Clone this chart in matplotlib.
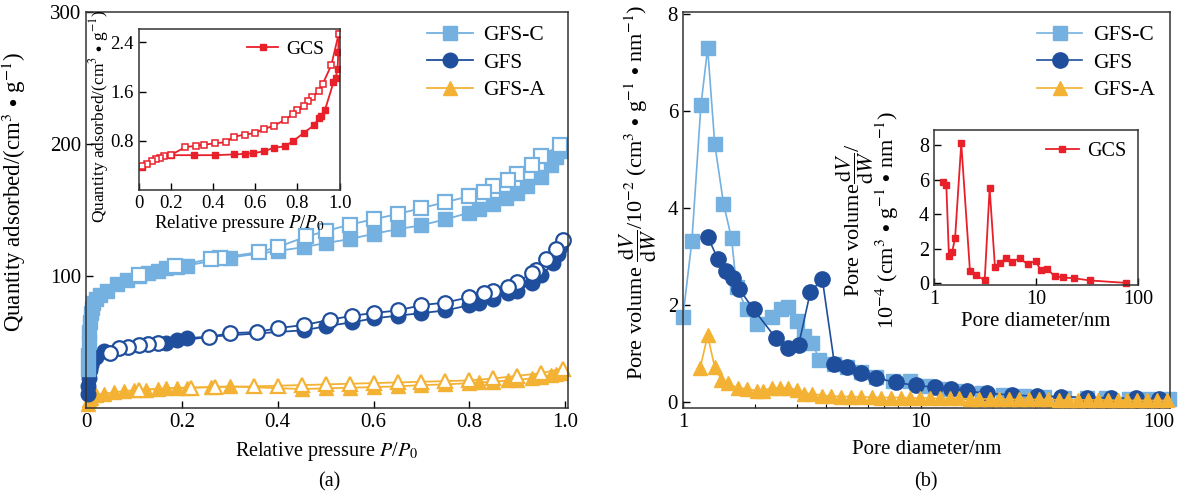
import numpy as np
import matplotlib
matplotlib.use('Agg')
import matplotlib.pyplot as plt

plt.rcParams['font.family'] = ['Liberation Serif', 'DejaVu Serif']
plt.rcParams['mathtext.fontset'] = 'stix'

c_lb = '#74B1E0'
c_db = '#1F4E9C'
c_ye = '#F4B234'
c_rd = '#E8202A'

# (a) isotherms
gfsc_ads_x = [0.004, 0.005, 0.006, 0.007, 0.008, 0.01, 0.012, 0.015, 0.02, 0.03, 0.044, 0.064, 0.085,
              0.11, 0.13, 0.15, 0.167, 0.19, 0.21, 0.30, 0.40, 0.455, 0.50, 0.55, 0.60, 0.65, 0.70,
              0.75, 0.80, 0.82, 0.85, 0.877, 0.90, 0.92, 0.95, 0.97, 0.98, 0.99]
gfsc_ads_y = [30, 40, 50, 58, 65, 72, 76, 80, 83, 86, 89, 94, 97, 100, 102, 104, 106, 107, 108, 114,
              119, 122, 125, 128, 132, 135.5, 138.5, 143, 148, 151, 154.5, 159, 163, 168, 175, 184, 190, 195]
gfsc_des_x = [0.99, 0.95, 0.93, 0.90, 0.88, 0.85, 0.83, 0.80, 0.75, 0.70, 0.65, 0.60, 0.55, 0.50,
              0.46, 0.40, 0.36, 0.28, 0.26, 0.185, 0.11]
gfsc_des_y = [199, 191, 184, 177, 173, 168, 164, 160.5, 156, 151.5, 147, 143, 139, 134, 130, 122,
              118, 114, 113, 107.5, 100.5]

gfs_ads_x = [0.004, 0.005, 0.006, 0.008, 0.01, 0.013, 0.02, 0.037, 0.167, 0.19, 0.21, 0.455, 0.50,
             0.555, 0.60, 0.65, 0.70, 0.75, 0.80, 0.82, 0.85, 0.88, 0.90, 0.93, 0.95, 0.975, 0.985, 0.99]
gfs_ads_y = [11, 17, 23, 29, 33, 36, 39, 43, 49, 51.5, 53, 59, 62, 65, 68, 70, 72, 74, 78, 80, 83,
             87, 89, 94.5, 100.5, 110, 117, 122]
gfs_des_x = [0.995, 0.98, 0.96, 0.94, 0.93, 0.90, 0.88, 0.85, 0.83, 0.80, 0.75, 0.70, 0.65, 0.60,
             0.555, 0.51, 0.455, 0.40, 0.356, 0.30, 0.257, 0.15, 0.13, 0.11, 0.088, 0.068, 0.05]
gfs_des_y = [127, 120.5, 113, 104.5, 102, 95.5, 92, 88.6, 87, 84, 80, 78, 74, 72, 70, 67, 63, 60.6,
             57.6, 56.8, 54, 49, 48.5, 47.7, 46, 45.5, 41.6]

gfsa_ads_x = [0.004, 0.006, 0.01, 0.02, 0.037, 0.058, 0.08, 0.1, 0.125, 0.15, 0.167, 0.19, 0.21,
              0.26, 0.30, 0.45, 0.5, 0.55, 0.6, 0.65, 0.7, 0.75, 0.8, 0.82, 0.85, 0.88, 0.9, 0.93,
              0.95, 0.97, 0.98, 0.99]
gfsa_ads_y = [3, 6, 8, 10, 11, 12, 13, 13.5, 14, 14.5, 15, 15.5, 15.5, 16, 16.5, 14.5, 15, 15.5, 16,
              16.5, 17.5, 18, 19, 19.5, 20, 21, 21.5, 22.5, 23.5, 25, 26, 27]
gfsa_des_x = [0.995, 0.95, 0.90, 0.85, 0.80, 0.75, 0.70, 0.65, 0.60, 0.55, 0.50, 0.45, 0.40, 0.35,
              0.27, 0.22, 0.11]
gfsa_des_y = [30, 26.5, 24.5, 22.5, 21, 20.5, 20, 19.5, 19, 18.5, 18, 17.5, 17, 16.5, 16, 15.5, 14]

# (a) inset GCS
gcs_ads_x = [0.063, 0.20, 0.31, 0.41, 0.50, 0.55, 0.59, 0.64, 0.69, 0.74, 0.78, 0.83, 0.88, 0.90,
             0.91, 0.93, 0.97, 0.98, 0.99, 0.993, 0.995]
gcs_ads_y = [0.38, 0.568, 0.568, 0.568, 0.58, 0.59, 0.60, 0.63, 0.69, 0.71, 0.80, 0.93, 1.06, 1.17,
             1.20, 1.30, 1.75, 1.82, 1.97, 2.24, 2.54]
gcs_des_x = [0.995, 0.96, 0.92, 0.90, 0.87, 0.85, 0.83, 0.80, 0.78, 0.74, 0.69, 0.64, 0.60, 0.55,
             0.50, 0.46, 0.41, 0.36, 0.32, 0.27, 0.20, 0.17, 0.15, 0.13, 0.11, 0.087, 0.063]
gcs_des_y = [2.54, 2.03, 1.73, 1.61, 1.51, 1.45, 1.36, 1.30, 1.24, 1.14, 1.05, 0.99, 0.93, 0.90,
             0.87, 0.78, 0.76, 0.74, 0.72, 0.70, 0.57, 0.55, 0.53, 0.50, 0.48, 0.43, 0.40]

# (b) pore size distributions
psd_c_x = [1.0, 1.09, 1.19, 1.27, 1.36, 1.48, 1.60, 1.68, 1.85, 2.04, 2.36, 2.57, 2.75, 3.0, 3.24,
           3.5, 3.74, 4.3, 4.9, 5.6, 6.5, 7.6, 9.0, 10.5, 12.5, 15, 18, 22, 27, 33, 40, 50, 60, 75,
           90, 110]
psd_c_y = [1.77, 3.32, 6.13, 7.30, 5.33, 4.1, 3.38, 2.38, 1.92, 1.62, 1.77, 1.92, 1.97, 1.68, 1.37,
           1.22, 0.88, 0.80, 0.72, 0.62, 0.52, 0.44, 0.45, 0.34, 0.28, 0.23, 0.19, 0.16, 0.13, 0.11,
           0.10, 0.09, 0.08, 0.07, 0.06, 0.06]
psd_s_x = [1.27, 1.40, 1.51, 1.62, 1.72, 1.98, 2.45, 2.75, 3.06, 3.43, 3.85, 4.33, 4.9, 5.6, 6.5,
           7.85, 9.5, 11.5, 13.3, 15.6, 18.9, 24, 30.6, 38.9, 50, 62.8, 80, 100]
psd_s_y = [3.42, 2.96, 2.71, 2.57, 2.34, 1.92, 1.33, 1.12, 1.18, 2.28, 2.54, 0.79, 0.72, 0.60, 0.50,
           0.41, 0.35, 0.31, 0.27, 0.23, 0.19, 0.15, 0.13, 0.12, 0.10, 0.09, 0.08, 0.07]
psd_a_x = [1.18, 1.27, 1.36, 1.45, 1.54, 1.70, 1.85, 2.04, 2.16, 2.36, 2.55, 2.75, 3.0, 3.24, 3.5,
           3.85, 4.2, 4.6, 5.1, 5.6, 6.2, 6.8, 7.5, 8.2, 9.0, 9.9, 10.9, 12.0, 13.2, 14.5, 16.0,
           17.6, 19.4, 21.3, 23.4, 25.8, 28.4, 31.2, 34.3, 37.8, 41.5, 45.7, 50.3, 55.3, 60.8, 66.9,
           73.6, 81.0, 89.0, 98.0, 108.0]
psd_a_y = [0.70, 1.38, 0.72, 0.47, 0.39, 0.30, 0.28, 0.24, 0.24, 0.30, 0.30, 0.30, 0.26, 0.18, 0.18,
           0.14, 0.13, 0.12, 0.12, 0.11, 0.11, 0.10, 0.10, 0.10, 0.09, 0.09, 0.09, 0.08, 0.08, 0.08,
           0.07, 0.07, 0.07, 0.07, 0.06, 0.06, 0.06, 0.06, 0.06, 0.05, 0.05, 0.05, 0.05, 0.05, 0.05,
           0.04, 0.04, 0.04, 0.04, 0.04, 0.04]

# (b) inset GCS
gcs_psd_x = [1.22, 1.32, 1.40, 1.51, 1.61, 1.85, 2.25, 2.56, 3.14, 3.51, 3.96, 4.43, 5.1, 5.84, 6.9,
             8.3, 9.9, 11.1, 12.9, 15.3, 18.5, 23.5, 33.6, 75.5]
gcs_psd_y = [5.88, 5.68, 1.60, 1.83, 2.64, 8.09, 0.73, 0.48, 0.17, 5.49, 0.92, 1.19, 1.44, 1.25, 1.44,
             1.10, 1.29, 0.77, 0.83, 0.39, 0.33, 0.29, 0.16, 0.02]

unit_a = r'(cm$^3$$\,\bullet\,$g$^{-1}$)'
unit_b = r'(cm$^3$$\,\bullet\,$g$^{-1}$$\,\bullet\,$nm$^{-1}$)'
frac = r'$\dfrac{\mathrm{d}V}{\mathrm{d}W}$'

fig = plt.figure(figsize=(11.95, 4.99), dpi=100)
ax1 = fig.add_axes([0.072, 0.182, 0.403, 0.794])
ax2 = fig.add_axes([0.5715, 0.182, 0.4075, 0.794])

def style(ax, fs):
    ax.tick_params(direction='in', length=5, width=1, labelsize=fs, top=False, right=False)
    ax.tick_params(which='minor', direction='in', length=3, width=0.8)
    for s in ax.spines.values():
        s.set_color('#333333')
        s.set_linewidth(1.1)

lw = 1.3
# panel a
for xs, ys, xd, yd, col, mk, ms, lab in [
        (gfsa_ads_x, gfsa_ads_y, gfsa_des_x, gfsa_des_y, c_ye, '^', 10, 'GFS-A'),
        (gfs_ads_x, gfs_ads_y, gfs_des_x, gfs_des_y, c_db, 'o', 10.5, 'GFS'),
        (gfsc_ads_x, gfsc_ads_y, gfsc_des_x, gfsc_des_y, c_lb, 's', 9.5, 'GFS-C')]:
    ax1.plot(xs, ys, color=col, marker=mk, ms=ms, lw=lw, mec=col, clip_on=False, label=lab)
    ax1.plot(xd, yd, color=col, marker=mk, ms=ms, lw=lw, mfc='white', mec=col, mew=1.6,
             clip_on=False)
ax1.set_xlim(0, 1.005)
ax1.set_ylim(0, 300)
ax1.set_xticks([0, 0.2, 0.4, 0.6, 0.8, 1.0])
ax1.set_xticklabels(['0', '0.2', '0.4', '0.6', '0.8', '1.0'])
ax1.set_yticks([100, 200, 300])
style(ax1, 15)
ax1.set_xlabel('Relative pressure $P$/$P_0$', fontsize=14.5, labelpad=6)
ax1.set_ylabel('Quantity adsorbed/' + unit_a, fontsize=16.5)
ax1.yaxis.set_label_coords(-0.12, 0.545)
h, l = ax1.get_legend_handles_labels()
ax1.legend(h[::-1], l[::-1], loc='upper right', frameon=False, fontsize=15.5, handlelength=2.1,
           handletextpad=0.5, borderaxespad=0.3, labelspacing=0.35, bbox_to_anchor=(0.985, 1.005))

ins1 = fig.add_axes([0.1163, 0.619, 0.168, 0.323])
ins1.plot(gcs_ads_x, gcs_ads_y, color=c_rd, marker='s', ms=4.5, lw=1.3, label='GCS')
ins1.plot(gcs_des_x, gcs_des_y, color=c_rd, marker='s', ms=4.5, lw=1.3, mfc='white', mew=1.1)
ins1.set_xlim(0.05, 1.0)
ins1.set_ylim(0, 2.62)
ins1.set_xticks([0.05, 0.2, 0.4, 0.6, 0.8, 1.0])
ins1.set_xticklabels(['0', '0.2', '0.4', '0.6', '0.8', '1.0'])
ins1.set_yticks([0.8, 1.6, 2.4])
style(ins1, 13.5)
ins1.set_xlabel('Relative pressure $P$/$P_0$', fontsize=13.5, labelpad=1)
ins1.set_ylabel('Quantity adsorbed/' + unit_a, fontsize=12.5)
ins1.yaxis.set_label_coords(-0.14, 0.46)
ins1.legend(loc='upper right', frameon=False, fontsize=14, handlelength=1.6, handletextpad=0.4,
            borderaxespad=0.2, bbox_to_anchor=(0.98, 1.0))

# panel b
ax2.plot(psd_c_x, psd_c_y, color=c_lb, marker='s', ms=10, lw=1.2, clip_on=False, label='GFS-C', zorder=2)
ax2.plot(psd_s_x, psd_s_y, color=c_db, marker='o', ms=11, lw=1.2, clip_on=False, label='GFS', zorder=3)
ax2.plot(psd_a_x, psd_a_y, color=c_ye, marker='^', ms=10, lw=1.2, clip_on=False, label='GFS-A', zorder=4)
ax2.set_xscale('log')
ax2.set_xlim(1, 111)
ax2.set_ylim(-0.12, 8.05)
ax2.set_yticks([0, 2, 4, 6, 8])
ax2.set_xticks([1, 10, 100])
ax2.set_xticklabels(['1', '10', '100'])
style(ax2, 15)
ax2.set_xlabel('Pore diameter/nm', fontsize=15, labelpad=6)
ax2.set_ylabel('Pore volume ' + frac + r'/10$^{-2}$ ' + unit_b, fontsize=16)
ax2.yaxis.set_label_coords(-0.05, 0.545)
ax2.legend(loc='upper right', frameon=False, fontsize=15.5, handlelength=2.1, handletextpad=0.5,
           borderaxespad=0.3, labelspacing=0.35, bbox_to_anchor=(1.0, 1.005))

ins2 = fig.add_axes([0.7816, 0.429, 0.1707, 0.3106])
ins2.plot(gcs_psd_x, gcs_psd_y, color=c_rd, marker='s', ms=4.5, lw=1.3, label='GCS', clip_on=False)
ins2.set_xscale('log')
ins2.set_xlim(1, 100)
ins2.set_ylim(-0.1, 8.87)
ins2.set_yticks([0, 2, 4, 6, 8])
ins2.set_xticks([1, 10, 100])
ins2.set_xticklabels(['1', '10', '100'])
style(ins2, 14.5)
ins2.tick_params(which='minor', length=0)
ins2.set_xlabel('Pore diameter/nm', fontsize=15, labelpad=2)
ins2.set_ylabel('Pore volume' + frac + '/\n10$^{-4}$ ' + unit_b,
                fontsize=16, linespacing=0.9)
ins2.yaxis.set_label_coords(-0.16, 0.42)
ins2.legend(loc='upper right', frameon=False, fontsize=14.5, handlelength=1.6, handletextpad=0.4,
            borderaxespad=0.2)

fig.text(0.2755, 0.025, '(a)', ha='center', fontsize=14.5)
fig.text(0.7752, 0.025, '(b)', ha='center', fontsize=14.5)

fig.savefig('out.png', dpi=100)
